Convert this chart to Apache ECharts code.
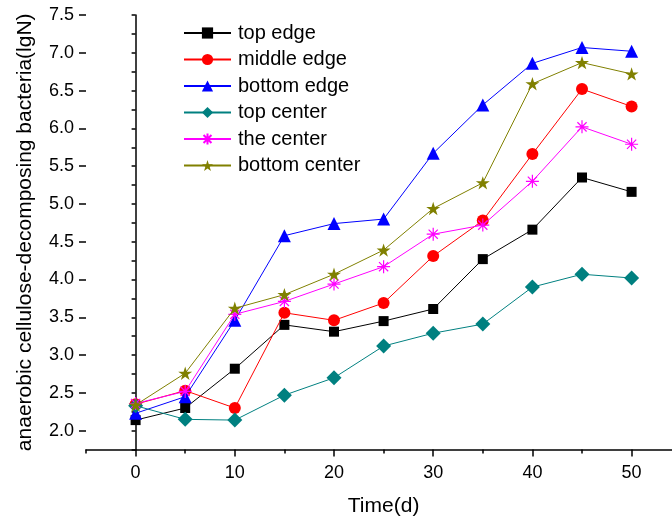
<!DOCTYPE html>
<html>
<head>
<meta charset="utf-8">
<script src="https://cdn.jsdelivr.net/npm/echarts@6/dist/echarts.min.js"></script>
<style>
  html, body { margin: 0; padding: 0; background: #fff; }
  #chart { width: 672px; height: 519px; }
</style>
</head>
<body>
<div id="chart"></div>
<script>
// 时间点 (d)
const days = [0, 5, 10, 15, 20, 25, 30, 35, 40, 45, 50];
// 各位置的 lgN 值
const topEdge = [2.14, 2.30, 2.82, 3.40, 3.31, 3.45, 3.61, 4.27, 4.66, 5.35, 5.16];
const middleEdge = [2.35, 2.53, 2.30, 3.56, 3.46, 3.69, 4.31, 4.78, 5.66, 6.52, 6.29];
const bottomEdge = [2.23, 2.45, 3.46, 4.58, 4.74, 4.80, 5.67, 6.31, 6.86, 7.07, 7.02];
const topCenter = [2.33, 2.15, 2.14, 2.47, 2.70, 3.12, 3.29, 3.41, 3.90, 4.07, 4.02];
const theCenter = [2.36, 2.52, 3.54, 3.71, 3.94, 4.17, 4.60, 4.72, 5.30, 6.02, 5.79];
const bottomCenter = [2.34, 2.76, 3.62, 3.80, 4.07, 4.39, 4.94, 5.28, 6.59, 6.87, 6.72];

const names = ["top edge", "middle edge", "bottom edge", "top center", "the center", "bottom center"];
const values = [topEdge, middleEdge, bottomEdge, topCenter, theCenter, bottomCenter];
const colors = ["#000000", "#ff0000", "#0000ff", "#008080", "#ff00ff", "#808000"];

const STAR = "path://M0,-100L22.45,-30.9L95.1,-30.9L36.3,11.8L58.8,80.9L0,38.2L-58.8,80.9L-36.3,11.8L-95.1,-30.9L-22.45,-30.9Z";
const ASTER = "path://M0,-10L0,10M-10,0L10,0M-7.07,-7.07L7.07,7.07M-7.07,7.07L7.07,-7.07";
const symbols = ["rect", "circle", "triangle", "diamond", ASTER, STAR];
const sizes = [10, 12, 13, 15, 13, 14];

const FONT = "'Liberation Sans', Arial, sans-serif";
const chart = echarts.init(document.getElementById("chart"));

// 像素比例：x 每单位 9.92px，y 每单位 75.58px
const LEFT = 86, TOP = 15;
const plotW = 60 * 9.92, plotH = 5.75 * 75.58;

const series = names.map((n, i) => {
  const aster = i === 4;
  return {
    name: n,
    type: "line",
    xAxisIndex: 0,
    yAxisIndex: 0,
    data: days.map((d, j) => [d, values[i][j]]),
    symbol: symbols[i],
    symbolSize: sizes[i],
    symbolKeepAspect: true,
    lineStyle: { color: colors[i], width: 1 },
    itemStyle: aster
      ? { color: "none", borderColor: colors[i], borderWidth: 1.2 }
      : { color: colors[i], borderWidth: 0 },
    emphasis: { disabled: true },
    z: 2 + i
  };
});

const option = {
  animation: false,
  textStyle: { fontFamily: FONT },
  legend: {
    orient: "vertical",
    left: 183,
    top: 23,
    padding: 0,
    itemWidth: 47,
    itemHeight: 14,
    itemGap: 6.5,
    textStyle: { fontFamily: FONT, fontSize: 20, color: "#000", lineHeight: 20, padding: [0, 0, 0, 2] },
    data: names
  },
  grid: [
    // 0: 数据 + 次刻度
    { left: LEFT, top: TOP, width: plotW, height: plotH, outerBoundsMode: "none" },
    // 1: y 主刻度
    { left: LEFT, top: TOP, width: plotW, height: 5.5 * 75.58, outerBoundsMode: "none" },
    // 2: x 主刻度
    { left: LEFT + 5 * 9.92, top: TOP, width: 55 * 9.92, height: plotH, outerBoundsMode: "none" }
  ],
  xAxis: [
    {
      gridIndex: 0, type: "value", min: -5, max: 55, interval: 5,
      name: "Time(d)", nameLocation: "middle", nameGap: 46,
      nameTextStyle: { fontFamily: FONT, fontSize: 21, color: "#000" },
      axisLine: { lineStyle: { color: "#000", width: 1.5 } },
      axisTick: { length: 4, lineStyle: { color: "#000", width: 1.5 } },
      axisLabel: { show: false },
      splitLine: { show: false }
    },
    { gridIndex: 1, type: "value", min: 0, max: 1, show: false },
    {
      gridIndex: 2, type: "value", min: 0, max: 55, interval: 10,
      axisLine: { show: false },
      axisTick: { length: 7, lineStyle: { color: "#000", width: 1.5 } },
      axisLabel: {
        margin: 14, fontFamily: FONT, fontSize: 18, color: "#000",
        formatter: v => (v % 10 === 0 ? String(v) : "")
      },
      splitLine: { show: false }
    }
  ],
  yAxis: [
    {
      gridIndex: 0, type: "value", min: 1.75, max: 7.5, interval: 0.25,
      name: "anaerobic cellulose-decomposing bacteria(lgN)",
      nameLocation: "middle", nameGap: 50,
      nameTextStyle: { fontFamily: FONT, fontSize: 21, color: "#000" },
      axisLine: { show: true, lineStyle: { color: "#000", width: 1.5 } },
      axisTick: { show: true, length: 4, lineStyle: { color: "#000", width: 1.5 } },
      axisLabel: { show: false },
      splitLine: { show: false }
    },
    {
      gridIndex: 1, type: "value", min: 2, max: 7.5, interval: 0.5,
      axisLine: { show: false },
      axisTick: { show: true, length: 7, lineStyle: { color: "#000", width: 1.5 } },
      axisLabel: {
        margin: 12, fontFamily: FONT, fontSize: 18, color: "#000",
        formatter: v => v.toFixed(1)
      },
      splitLine: { show: false }
    },
    { gridIndex: 2, type: "value", min: 0, max: 1, show: false }
  ],
  series: series
};

chart.setOption(option);
</script>
</body>
</html>
